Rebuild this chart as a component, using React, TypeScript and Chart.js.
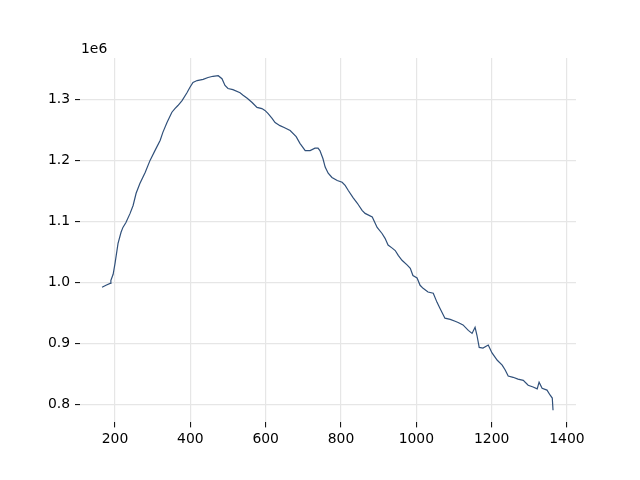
import React, { useEffect, useRef } from "react";
import { Chart, registerables } from "chart.js";

Chart.register(...registerables);

const xValues: number[] = [
  165.5, 176, 187, 189, 195, 200, 208, 216, 221, 229, 240, 248, 256, 266, 280, 293, 306,
  320, 327, 338, 351, 359, 367, 378, 391, 399, 407, 418, 434, 447, 460, 474, 484, 492,
  500, 513, 532, 540, 551, 564, 577, 590, 598, 606, 617, 625, 638, 649, 665, 681, 691,
  705, 718, 731, 739, 744, 752, 758, 766, 776, 790, 803, 811, 819, 832, 843, 856, 864,
  883, 896, 909, 917, 925, 936, 944, 952, 962, 976, 984, 991, 1002, 1010, 1018, 1031,
  1045, 1055, 1063, 1076, 1090, 1103, 1111, 1124, 1138, 1148, 1156, 1161, 1167, 1177,
  1191, 1201, 1215, 1228, 1236, 1244, 1257, 1270, 1284, 1297, 1310, 1321, 1326, 1334,
  1347, 1355, 1361, 1363,
];

const yValues: number[] = [
  991800, 995000, 998000, 1003300, 1013100, 1031100, 1063900, 1082000, 1090000, 1098000,
  1113000, 1126000, 1146000, 1162000, 1180000, 1200000, 1216000,
  1233000, 1246000, 1262000, 1279000, 1285000, 1290000, 1298000, 1311000, 1320000,
  1328000, 1331000, 1333000, 1336000, 1338000, 1339000, 1334000, 1323000,
  1318000, 1316000, 1311000, 1307000, 1302000, 1295000, 1287000, 1285000, 1282000,
  1277000, 1269000, 1262000, 1257000, 1254000, 1249000, 1239000, 1228000,
  1216000, 1216000, 1220000, 1220000, 1216000, 1203000, 1189000, 1179000, 1172000,
  1167000, 1164000, 1159000, 1151000, 1139000, 1130000, 1118000, 1113000,
  1107000, 1090000, 1080000, 1072000, 1061000, 1056000, 1052000, 1044000, 1036000,
  1028000, 1023000, 1011000, 1007000, 995000, 990000, 984000,
  982000, 967000, 957000, 941000, 939000, 936000, 934000, 930000, 921000, 916000,
  926000, 913000, 893000, 892000,
  897000, 884000, 872000, 864000, 856000, 846000, 844000, 841000, 839000, 831000,
  828000, 825000, 836000, 826000,
  823000, 815000, 810000, 790000,
];

const xTicks: number[] = [200, 400, 600, 800, 1000, 1200, 1400];
const yTicks: number[] = [800000, 900000, 1000000, 1100000, 1200000, 1300000];
const offsetLabel = "1e6";

const FONT = "'DejaVu Sans', sans-serif";

export default function App() {
  const ref = useRef<HTMLCanvasElement | null>(null);

  useEffect(() => {
    if (!ref.current) return;
    const offsetPlugin = {
      id: "offsetText",
      afterDraw(chart: any) {
        const ctx = chart.ctx;
        ctx.save();
        ctx.font = `13.9px ${FONT}`;
        ctx.fillStyle = "#000";
        ctx.textAlign = "left";
        ctx.textBaseline = "alphabetic";
        ctx.fillText(offsetLabel, chart.chartArea.left + 1, 53);
        ctx.restore();
      },
    };
    const chart = new Chart(ref.current, {
      type: "line",
      data: {
        datasets: [
          {
            data: xValues.map((x, i) => ({ x, y: yValues[i] })),
            borderColor: "#30507a",
            borderWidth: 1.2,
            pointRadius: 0,
            tension: 0,
            fill: false,
          },
        ],
      },
      options: {
        animation: false,
        responsive: false,
        devicePixelRatio: 1,
        layout: { padding: { top: 58, right: 64, left: 0, bottom: 0 } },
        plugins: { legend: { display: false }, tooltip: { enabled: false } },
        scales: {
          x: {
            type: "linear",
            min: 107,
            max: 1424,
            afterBuildTicks: (scale: any) => {
              scale.ticks = xTicks.map((v) => ({ value: v }));
            },
            afterFit: (scale: any) => {
              scale.height = 57.6;
            },
            border: { display: false },
            grid: {
              color: "#e6e6e6",
              lineWidth: 1.2,
              drawTicks: true,
              tickLength: 5,
              tickColor: "#000",
              tickWidth: 1,
            },
            ticks: {
              color: "#000",
              font: { family: FONT, size: 13.9 },
              padding: 4,
              maxRotation: 0,
              autoSkip: false,
              callback: (v: any) => String(v),
            },
          },
          y: {
            type: "linear",
            min: 770000,
            max: 1368000,
            afterBuildTicks: (scale: any) => {
              scale.ticks = yTicks.map((v) => ({ value: v }));
            },
            afterFit: (scale: any) => {
              scale.width = 80;
            },
            border: { display: false },
            grid: {
              color: "#e6e6e6",
              lineWidth: 1.2,
              drawTicks: true,
              tickLength: 5,
              tickColor: "#000",
              tickWidth: 1,
            },
            ticks: {
              color: "#000",
              font: { family: FONT, size: 13.9 },
              padding: 5,
              autoSkip: false,
              callback: (v: any) => (Number(v) / 1e6).toFixed(1),
            },
          },
        },
      },
      plugins: [offsetPlugin],
    });
    return () => chart.destroy();
  }, []);

  return (
    <div style={{ position: "absolute", left: 0, top: 0, width: 640, height: 480, background: "#fff" }}>
      <canvas ref={ref} width={640} height={480} />
    </div>
  );
}
